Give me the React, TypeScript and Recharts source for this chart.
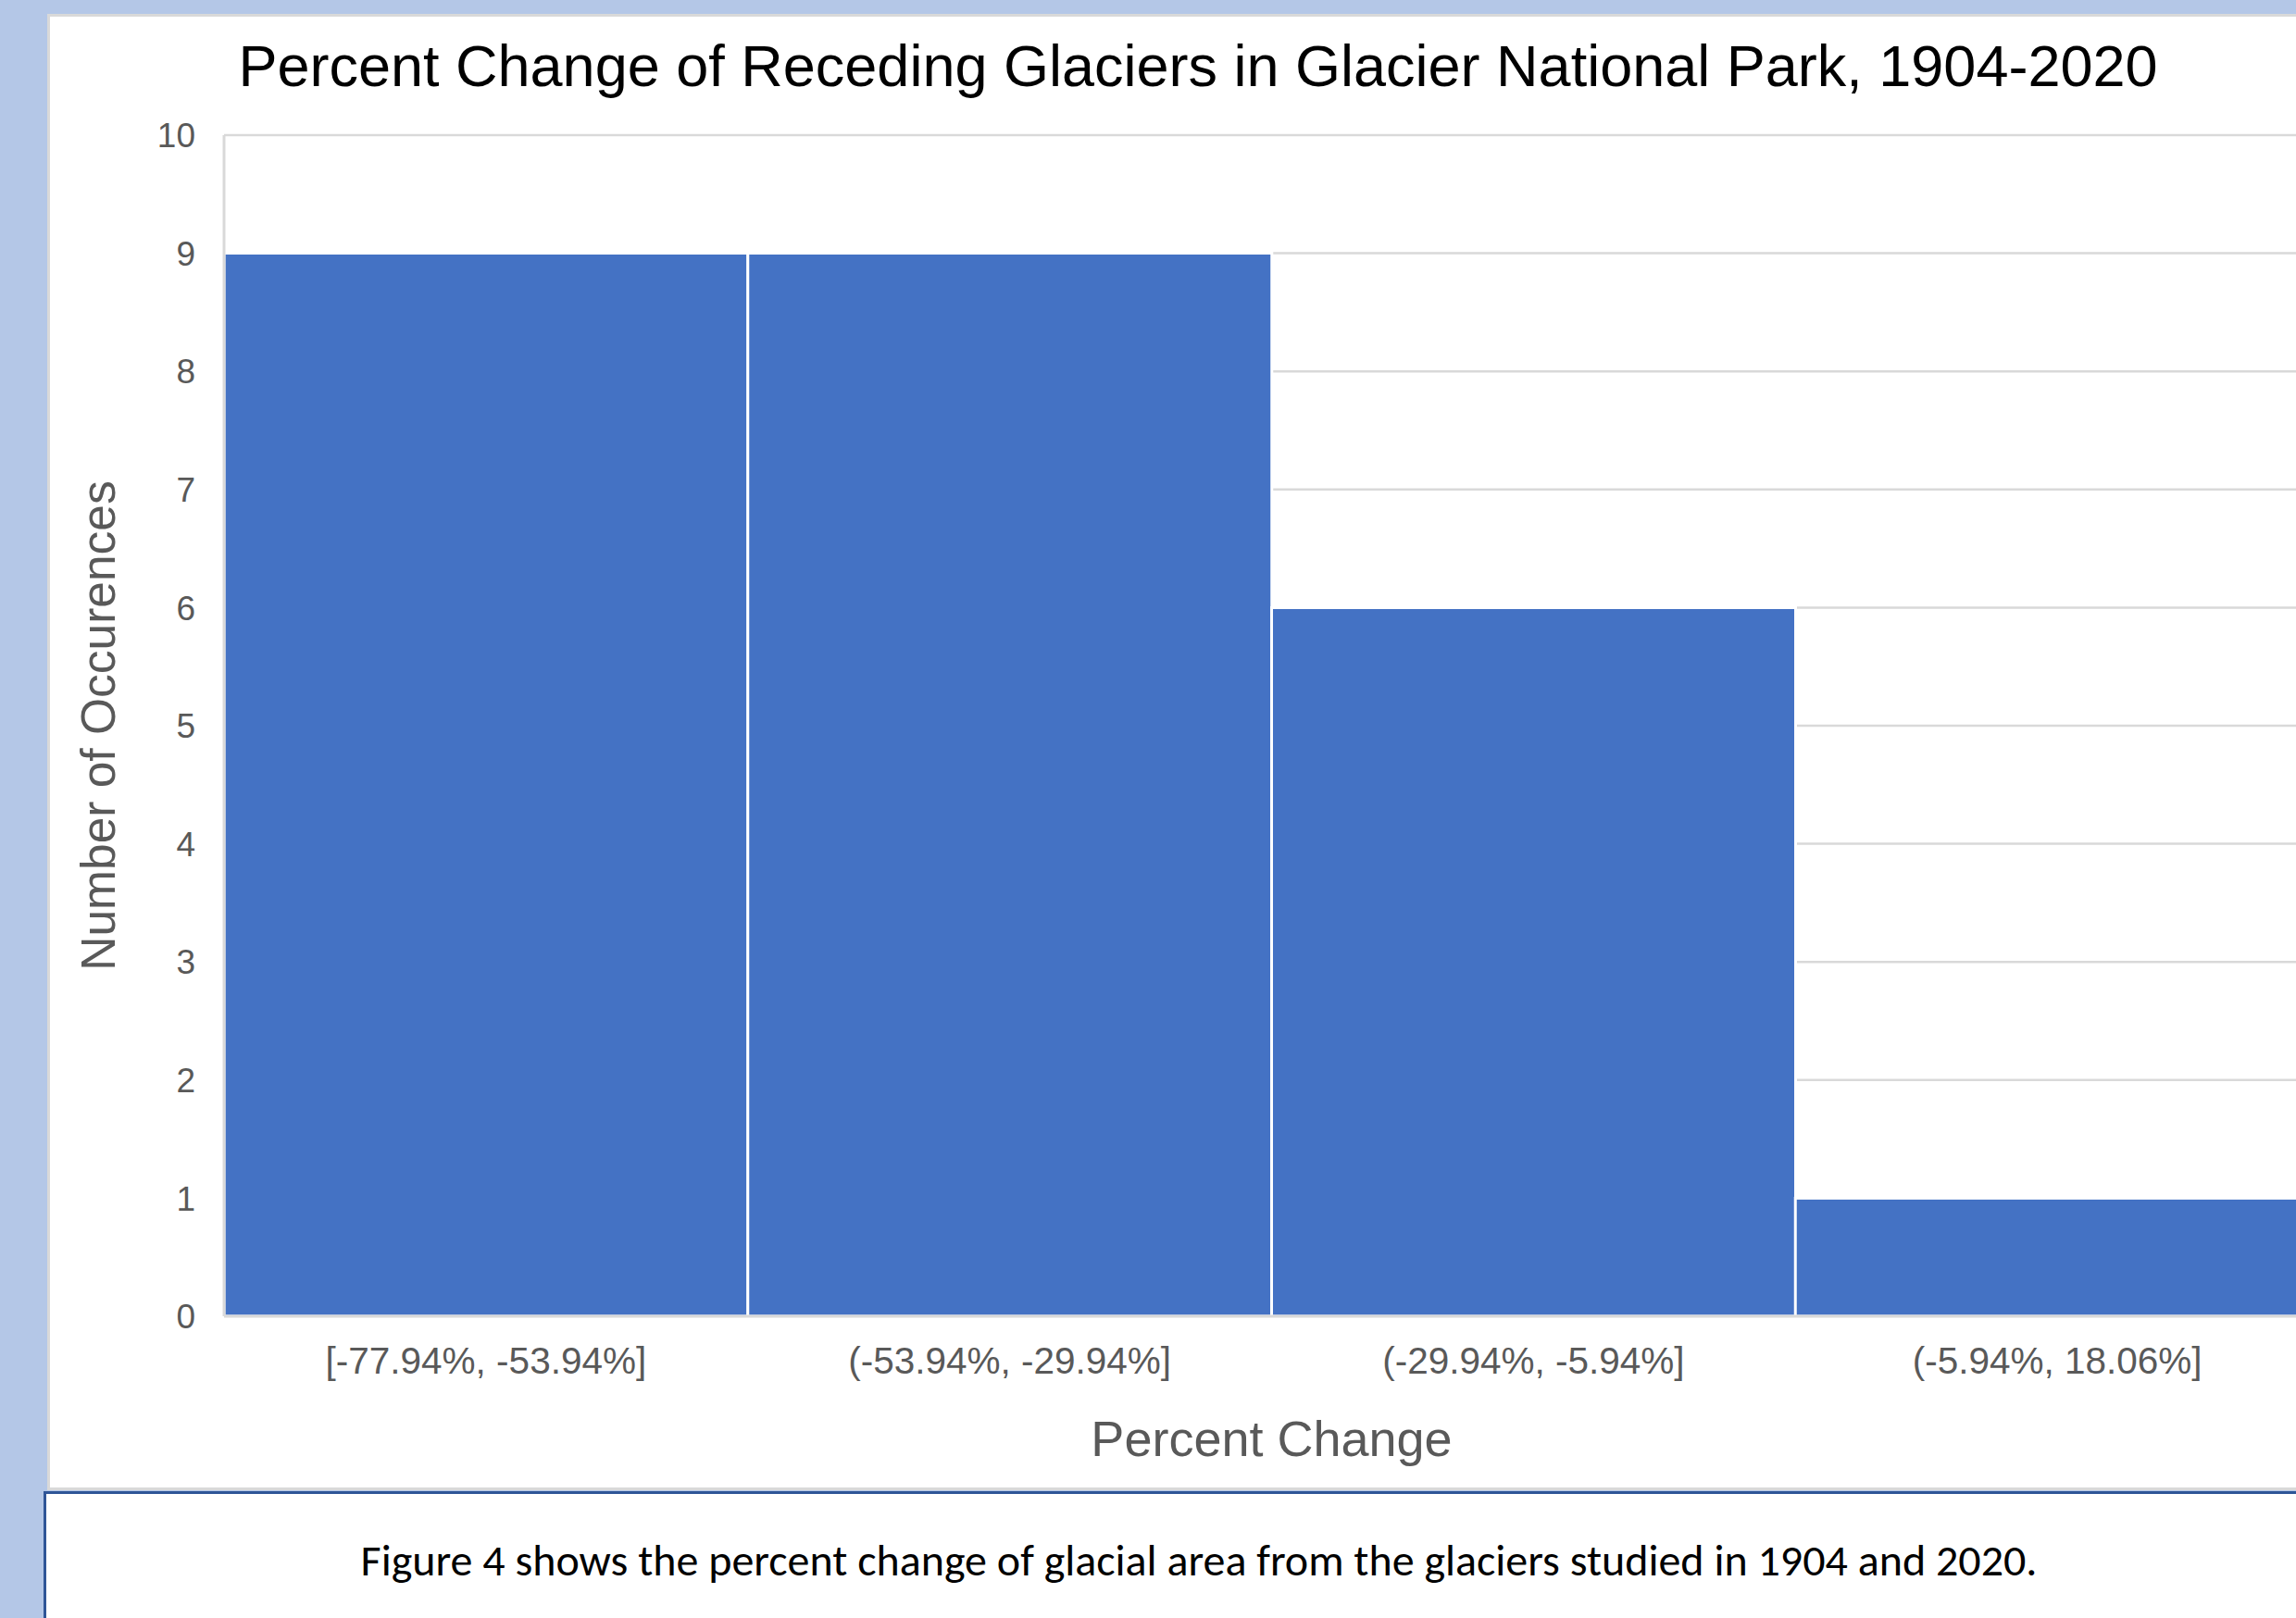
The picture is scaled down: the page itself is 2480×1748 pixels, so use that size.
import React from 'react';
import { BarChart, Bar, XAxis, YAxis, CartesianGrid, Label } from 'recharts';

const categories = ['[-77.94%, -53.94%]', '(-53.94%, -29.94%]', '(-29.94%, -5.94%]', '(-5.94%, 18.06%]'];
const occurrences = [9, 9, 6, 1];
const yTicks = [0, 1, 2, 3, 4, 5, 6, 7, 8, 9, 10];
const titleText = 'Percent Change of Receding Glaciers in Glacier National Park, 1904-2020';
const captionText = 'Figure 4 shows the percent change of glacial area from the glaciers studied in 1904 and 2020.';

const data = categories.map((c, i) => ({ bin: c, count: occurrences[i] }));

const FONT = '"Liberation Sans", Arial, sans-serif';

export default function App() {
  return (
    <div style={{ position: 'absolute', left: 0, top: 0, width: 2480, height: 1748, overflow: 'hidden', background: '#B4C7E7' }}>
      <div style={{ position: 'absolute', left: 51, top: 15, width: 2560, height: 1595, boxSizing: 'border-box', border: '3px solid #D9D9D9', background: '#FFFFFF' }} />
      <div style={{ position: 'absolute', left: 0, top: 0 }}>
        <BarChart
          width={2560}
          height={1748}
          data={data}
          margin={{ top: 146, right: 55, bottom: 166, left: 0 }}
          barCategoryGap={0}
          barGap={0}
        >
          <CartesianGrid horizontal vertical={false} stroke="#D9D9D9" strokeWidth={2.5} />
          <Bar dataKey="count" fill="#4472C4" stroke="#FFFFFF" strokeWidth={3} isAnimationActive={false} />
          <XAxis
            dataKey="bin"
            height={160}
            tickLine={false}
            axisLine={{ stroke: '#D9D9D9', strokeWidth: 3 }}
            tick={{ fill: '#595959', fontSize: 40.5, fontFamily: FONT }}
            tickMargin={27}
            interval={0}
          >
            <Label value="Percent Change" position="insideBottom" offset={9} style={{ fill: '#595959', fontSize: 54, fontFamily: FONT }} />
          </XAxis>
          <YAxis
            width={242}
            domain={[0, 10]}
            ticks={yTicks}
            interval={0}
            tickLine={false}
            axisLine={{ stroke: '#D9D9D9', strokeWidth: 3 }}
            tick={{ fill: '#595959', fontSize: 37, fontFamily: FONT }}
            tickMargin={25}
          >
            <Label value="Number of Occurences" angle={-90} position="insideLeft" offset={106} style={{ fill: '#595959', fontSize: 51.5, fontFamily: FONT, textAnchor: 'middle' }} />
          </YAxis>
        </BarChart>
      </div>
      <div style={{ position: 'absolute', left: 0, top: 31, width: 2588, textAlign: 'center', fontFamily: FONT, fontSize: 63, lineHeight: '80px', color: '#000000', whiteSpace: 'nowrap' }}>
        {titleText}
      </div>
      <div style={{ position: 'absolute', left: 47, top: 1611, width: 2560, height: 200, boxSizing: 'border-box', borderTop: '3px solid #2F5597', borderLeft: '3px solid #2F5597', background: '#FFFFFF' }} />
      <div style={{ position: 'absolute', left: 0, top: 1654, width: 2590, textAlign: 'center', fontFamily: 'Carlito, Lato, sans-serif', fontSize: 48, lineHeight: '64px', color: '#000000', whiteSpace: 'nowrap' }}>
        {captionText}
      </div>
    </div>
  );
}
